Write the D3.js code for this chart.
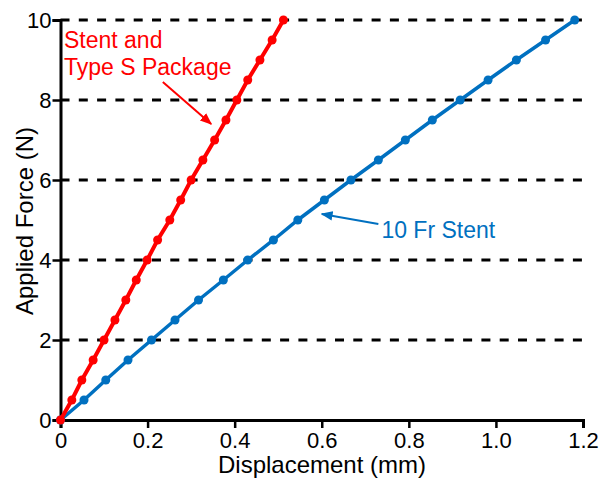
<!DOCTYPE html>
<html>
<head>
<meta charset="utf-8">
<script src="https://cdn.jsdelivr.net/npm/d3@7"></script>
<style>
  body { margin: 0; background: #fff; }
  text { font-family: "Liberation Sans", Arial, sans-serif; }
</style>
</head>
<body>
<div id="chart-area"></div>
<script>
// force levels (N), shared by both series
var force = [0, 0.5, 1, 1.5, 2, 2.5, 3, 3.5, 4, 4.5, 5, 5.5, 6, 6.5, 7, 7.5, 8, 8.5, 9, 9.5, 10];

// displacement (mm)
var stentPackage = [0, 0.026, 0.049, 0.075, 0.100, 0.125, 0.150, 0.174, 0.199, 0.223, 0.251,
    0.276, 0.300, 0.327, 0.354, 0.380, 0.405, 0.430, 0.458, 0.486, 0.512];
var frStent = [0, 0.054, 0.104, 0.155, 0.209, 0.263, 0.317, 0.374, 0.430, 0.489, 0.545,
    0.606, 0.667, 0.730, 0.792, 0.854, 0.918, 0.982, 1.047, 1.114, 1.181];

var xTicks = [0, 0.2, 0.4, 0.6, 0.8, 1.0, 1.2];
var yTicks = [0, 2, 4, 6, 8, 10];
var gridLevels = [2, 4, 6, 8, 10];

var red = "#ff0000",
    blue = "#0070c0";

var width = 600, height = 483;

var svg = d3.select("#chart-area")
    .append("svg")
        .attr("width", width)
        .attr("height", height);

// X Scale
var x = d3.scaleLinear()
    .domain([0, 1.2])
    .range([60.5, 583]);

// Y Scale
var y = d3.scaleLinear()
    .domain([0, 10])
    .range([420, 20]);

// dashed reference lines
svg.append("g").selectAll("line")
    .data(gridLevels)
    .enter().append("line")
        .attr("x1", x(0))
        .attr("x2", x(1.2))
        .attr("y1", function(d){ return y(d); })
        .attr("y2", function(d){ return y(d); })
        .attr("stroke", "#000")
        .attr("stroke-width", 3)
        .attr("stroke-dasharray", "9,9.3");

// X Axis
var xAxisCall = d3.axisBottom(x)
    .tickValues(xTicks)
    .tickSizeOuter(0)
    .tickSize(8)
    .tickPadding(4)
    .tickFormat(function(d){ return d === 0 ? "0" : d3.format(".1f")(d); });
var xAxis = svg.append("g")
    .attr("transform", "translate(0," + y(0) + ")")
    .call(xAxisCall);

// Y Axis
var yAxisCall = d3.axisLeft(y)
    .tickValues(yTicks)
    .tickSizeOuter(0)
    .tickSize(8)
    .tickPadding(1)
    .tickFormat(d3.format("d"));
var yAxis = svg.append("g")
    .attr("transform", "translate(" + x(0) + ",0)")
    .call(yAxisCall);

[xAxis, yAxis].forEach(function(a){
    a.select(".domain").attr("stroke", "#000").attr("stroke-width", 3);
    a.selectAll(".tick line").attr("stroke", "#000").attr("stroke-width", 2.5);
    a.selectAll(".tick text")
        .attr("fill", "#000")
        .attr("font-size", "22px")
        .attr("font-family", "Liberation Sans, Arial, sans-serif");
});

// X Label
svg.append("text")
    .attr("x", 322)
    .attr("y", 473)
    .attr("font-size", "24px")
    .attr("text-anchor", "middle")
    .text("Displacement (mm)");

// Y Label
svg.append("text")
    .attr("x", -221)
    .attr("y", 33)
    .attr("font-size", "24px")
    .attr("text-anchor", "middle")
    .attr("transform", "rotate(-90)")
    .text("Applied Force (N)");

var line = d3.line()
    .x(function(d){ return x(d.disp); })
    .y(function(d){ return y(d.force); });

function drawSeries(values, color, lw) {
    var data = values.map(function(v, i){ return { disp: v, force: force[i] }; });
    var g = svg.append("g");
    g.append("path")
        .datum(data)
        .attr("fill", "none")
        .attr("stroke", color)
        .attr("stroke-width", lw)
        .attr("d", line);
    g.selectAll("circle")
        .data(data)
        .enter().append("circle")
            .attr("cx", function(d){ return x(d.disp); })
            .attr("cy", function(d){ return y(d.force); })
            .attr("r", 4.5)
            .attr("fill", color);
}

drawSeries(frStent, blue, 3.5);
drawSeries(stentPackage, red, 4);

// arrow heads
var defs = svg.append("defs");
[["arrRed", red], ["arrBlue", blue]].forEach(function(m){
    defs.append("marker")
        .attr("id", m[0])
        .attr("viewBox", "0 0 10 10")
        .attr("refX", 9)
        .attr("refY", 5)
        .attr("markerWidth", 6)
        .attr("markerHeight", 6)
        .attr("markerUnits", "strokeWidth")
        .attr("orient", "auto")
      .append("path")
        .attr("d", "M0,1 L10,5 L0,9 Z")
        .attr("fill", m[1]);
});

// annotations (data units)
svg.append("line")
    .attr("x1", x(0.235)).attr("y1", y(8.45))
    .attr("x2", x(0.346)).attr("y2", y(7.4))
    .attr("stroke", red)
    .attr("stroke-width", 2)
    .attr("marker-end", "url(#arrRed)");

svg.append("line")
    .attr("x1", x(0.730)).attr("y1", y(4.9))
    .attr("x2", x(0.600)).attr("y2", y(5.15))
    .attr("stroke", blue)
    .attr("stroke-width", 2)
    .attr("marker-end", "url(#arrBlue)");

svg.append("text")
    .attr("x", x(0.008))
    .attr("y", y(9.29))
    .attr("font-size", "23px")
    .attr("fill", red)
    .text("Stent and");

svg.append("text")
    .attr("x", x(0.008))
    .attr("y", y(8.625))
    .attr("font-size", "23px")
    .attr("fill", red)
    .text("Type S Package");

svg.append("text")
    .attr("x", x(0.737))
    .attr("y", y(4.55))
    .attr("font-size", "23px")
    .attr("fill", blue)
    .text("10 Fr Stent");
</script>
</body>
</html>
